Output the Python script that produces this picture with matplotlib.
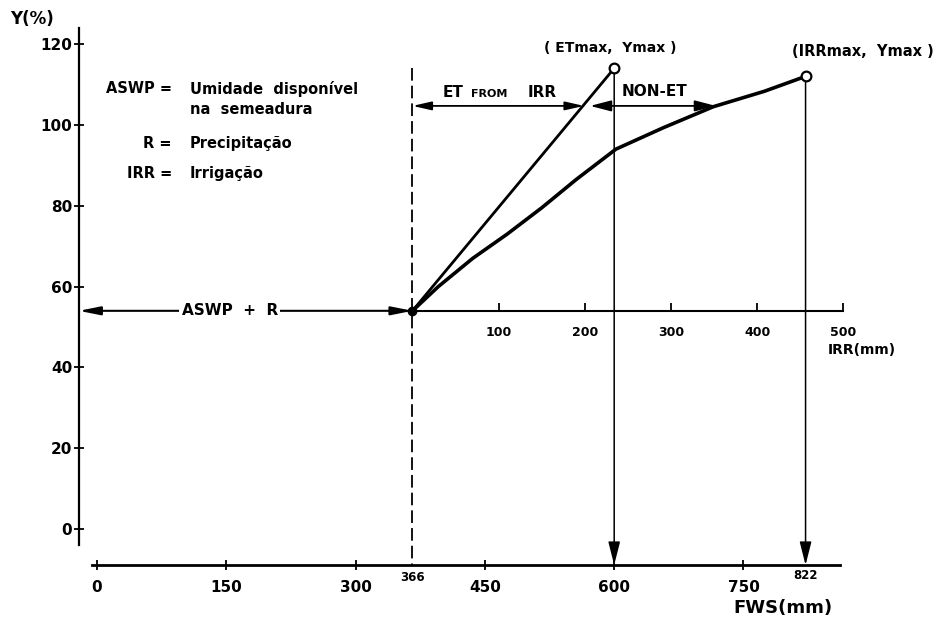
import matplotlib.pyplot as plt

plt.rcParams['font.family'] = ['DejaVu Sans']
plt.rcParams['font.weight'] = 'bold'

# axis ticks
y_ticks = [0, 20, 40, 60, 80, 100, 120]
fws_ticks = [0, 150, 300, 450, 600, 750]
irr_ticks = [100, 200, 300, 400, 500]

# key values (FWS in mm, Y in %)
fws_sow = 366        # ASWP + R
y_base = 54
fws_etmax = 600
y_etmax = 114
fws_irrmax = 822
y_irrmax = 112

# yield vs irrigation curve (IRR in mm)
curve_irr = [0, 30, 70, 110, 150, 190, 236, 291, 349, 408, 456]
curve_y = [54, 60.0, 67.0, 73.0, 79.5, 86.5, 94.0, 99.3, 104.5, 108.3, 112]

# level of the ET / NON-ET arrows and where they split
y_arrows = 104.7
fws_split = [565, 572]
fws_nonet_end = 718

fig = plt.figure(figsize=(9.44, 6.18), dpi=100)
ax = fig.add_axes([0, 0, 1, 1])
ax.set_xlim(-112.5, 982.6)
ax.set_ylim(-22.0, 130.9)

#axes
ax.spines['top'].set_visible(False)
ax.spines['right'].set_visible(False)
ax.spines['left'].set_position(('data', -21))
ax.spines['left'].set_bounds(-4, 124)
ax.spines['left'].set_linewidth(1.6)
ax.spines['bottom'].set_position(('data', -8.9))
ax.spines['bottom'].set_bounds(-6, 862)
ax.spines['bottom'].set_linewidth(2.0)
ax.set_yticks(y_ticks)
ax.set_xticks(fws_ticks)
ax.tick_params(axis='y', direction='inout', length=7.5, width=1.3, labelsize=11, pad=1)
ax.tick_params(axis='x', direction='inout', length=7.5, width=1.3, labelsize=11, pad=7)

# IRR axis sitting on the Y = y_base line
loc = (y_base - ax.get_ylim()[0]) / (ax.get_ylim()[1] - ax.get_ylim()[0])
sec = ax.secondary_xaxis(loc, functions=(lambda x: x - fws_sow, lambda x: x + fws_sow))
sec.set_xticks(irr_ticks)
sec.spines['bottom'].set_visible(False)
sec.tick_params(direction='in', length=6, width=1.3, labelsize=9, pad=11)
ax.plot([fws_sow, fws_sow + irr_ticks[-1]], [y_base, y_base], color='k', lw=1.5)

# ASWP + R arrow
ax.annotate('', xy=(fws_sow, y_base), xytext=(-21, y_base),
            arrowprops=dict(arrowstyle='<|-|>,head_length=0.85,head_width=0.17',
                            color='k', lw=1.5, shrinkA=0, shrinkB=0, mutation_scale=15))
ax.text(154, y_base, 'ASWP  +  R', ha='center', va='center', fontsize=11,
        bbox=dict(facecolor='white', edgecolor='none', pad=1.5))

# dashed line at sowing
ax.plot([fws_sow, fws_sow], [114, -8.9], color='k', lw=1.3, ls=(0, (7, 2.8)))

# ET line and yield curve
ax.plot([fws_sow, fws_etmax], [y_base, y_etmax], color='k', lw=2.0, zorder=3)
ax.plot([fws_sow + v for v in curve_irr], curve_y, color='k', lw=2.6, zorder=3,
        solid_capstyle='round', solid_joinstyle='round')
ax.plot(fws_sow, y_base, 'o', color='k', ms=6, zorder=4)
ax.plot([fws_etmax, fws_irrmax], [y_etmax, y_irrmax], 'o', ms=7, mfc='white',
        mec='k', mew=1.6, ls='none', zorder=5)

# drop lines to FWS axis
for fx, fy in [(fws_etmax, y_etmax), (fws_irrmax, y_irrmax)]:
    ax.annotate('', xy=(fx, -8.9), xytext=(fx, fy),
                arrowprops=dict(arrowstyle='-|>,head_length=0.95,head_width=0.24',
                                color='k', lw=1.1, shrinkA=0, shrinkB=0, mutation_scale=15))

# ET FROM IRR / NON-ET arrows
ax.annotate('', xy=(fws_split[0], y_arrows), xytext=(fws_sow, y_arrows),
            arrowprops=dict(arrowstyle='<|-|>,head_length=0.75,head_width=0.17',
                            color='k', lw=1.3, shrinkA=0, shrinkB=0, mutation_scale=15))
ax.annotate('', xy=(fws_nonet_end, y_arrows), xytext=(fws_split[1], y_arrows),
            arrowprops=dict(arrowstyle='<|-|>,head_length=0.85,head_width=0.22',
                            color='k', lw=1.3, shrinkA=0, shrinkB=0, mutation_scale=15))
ax.text(401, 107.9, 'ET', ha='left', va='center', fontsize=11)
ax.text(434, 107.6, 'FROM', ha='left', va='center', fontsize=8)
ax.text(499, 107.9, 'IRR', ha='left', va='center', fontsize=11)
ax.text(609, 108.2, 'NON-ET', ha='left', va='center', fontsize=11)

# point labels
ax.text(595, 119.1, '( ETmax,  Ymax )', ha='center', va='center', fontsize=10)
ax.text(888, 118.1, '(IRRmax,  Ymax )', ha='center', va='center', fontsize=10.5)

# legend block
legend_keys = ['ASWP =', 'R =', 'IRR =']
legend_vals = ['Umidade  disponível\nna  semeadura', 'Precipitação', 'Irrigação']
legend_y = [108.9, 95.5, 87.9]
for k, v, yy in zip(legend_keys, legend_vals, legend_y):
    ax.text(87, yy, k, ha='right', va='center', fontsize=10.5)
    for i, ln in enumerate(v.split('\n')):
        ax.text(108, yy - 5.2 * i, ln, ha='left', va='center', fontsize=10.5)

# special FWS labels and axis titles
ax.text(fws_sow, -11.9, '366', ha='center', va='center', fontsize=8.5)
ax.text(fws_irrmax, -11.4, '822', ha='center', va='center', fontsize=8.5)
ax.text(-101, 126.2, 'Y(%)', ha='left', va='center', fontsize=12)
ax.text(848, 44.3, 'IRR(mm)', ha='left', va='center', fontsize=10)
ax.text(738, -19.6, 'FWS(mm)', ha='left', va='center', fontsize=13)

fig.savefig('out.png', dpi=100, facecolor='white')
